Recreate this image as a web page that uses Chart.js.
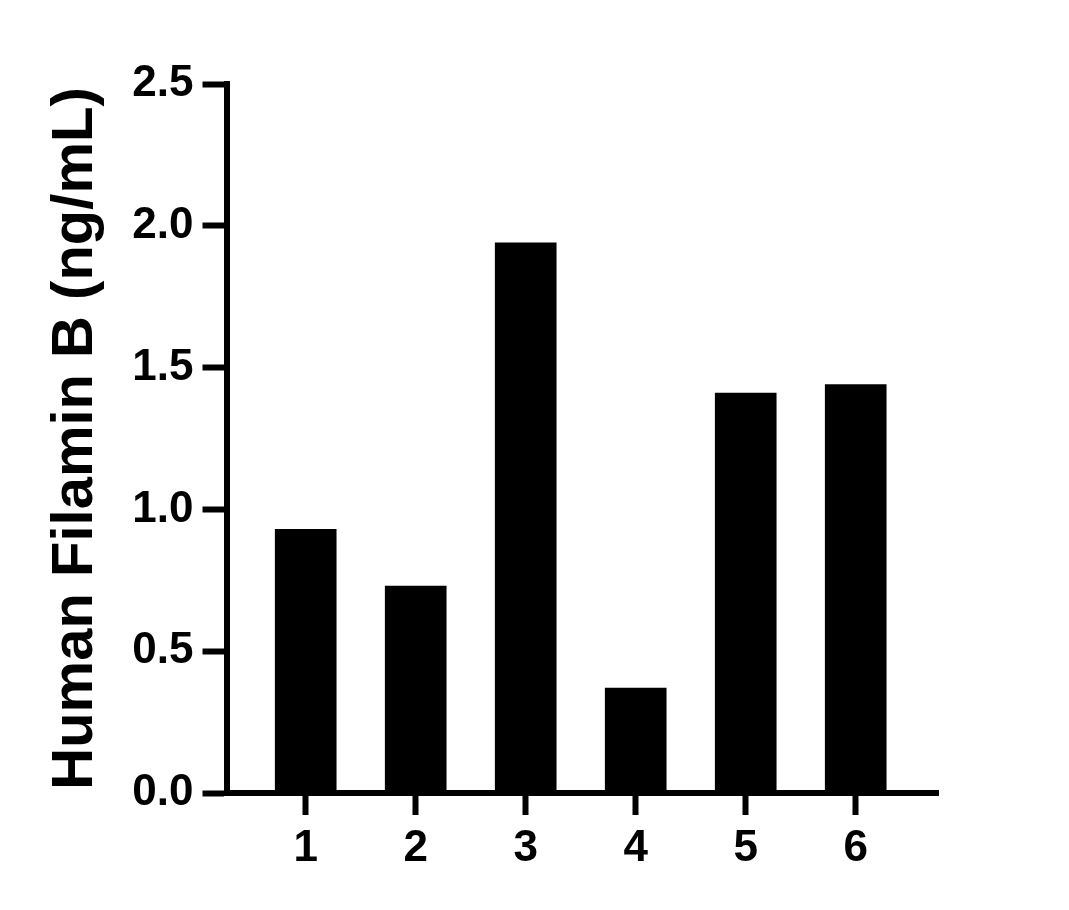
<!DOCTYPE html>
<html>
<head>
<meta charset="utf-8">
<script src="https://cdn.jsdelivr.net/npm/chart.js@4.4.0/dist/chart.umd.min.js"></script>
<style>
  html, body { margin: 0; padding: 0; background: #fff; }
  #wrap { width: 1069px; height: 910px; }
</style>
</head>
<body>
<div id="wrap"><canvas id="chart"></canvas></div>
<script>
const categories = ['1', '2', '3', '4', '5', '6'];
const values = [0.93, 0.73, 1.94, 0.37, 1.41, 1.44];
const yTicks = [0, 0.5, 1.0, 1.5, 2.0, 2.5];
const yTitle = 'Human Filamin B (ng/mL)';

const font = 'Liberation Sans, Arial, Helvetica, sans-serif';

let points = categories.map((c, i) => ({x: i + 1, y: values[i]}));

new Chart(document.getElementById('chart'), {
    type: 'bar',
    data: {
        datasets: [{
            data: points,
            backgroundColor: '#000',
            borderWidth: 0,
            barThickness: 61
        }]
    },
    options: {
        responsive: true,
        maintainAspectRatio: false,
        animation: false,
        events: [],
        layout: {padding: {left: 0, top: 84, right: 131, bottom: 0}},
        plugins: {legend: {display: false}, tooltip: {enabled: false}},
        scales: {
            x: {
                type: 'linear',
                offset: false,
                min: 0.28,
                max: 6.748,
                afterBuildTicks: (scale) => {
                    scale.ticks = categories.map((c, i) => ({value: i + 1}));
                },
                afterFit: (scale) => { scale.height = 117; },
                border: {display: true, color: '#000', width: 6},
                grid: {offset: false, drawOnChartArea: false, drawTicks: true, tickLength: 22, tickWidth: 6, color: '#000'},
                ticks: {
                    color: '#000',
                    padding: 7,
                    font: {family: font, size: 44, weight: 'bold'},
                    callback: (v) => categories[v - 1]
                }
            },
            y: {
                min: 0,
                max: 2.5,
                afterBuildTicks: (scale) => {
                    scale.ticks = yTicks.map(v => ({value: v}));
                },
                afterFit: (scale) => { scale.width = 226.5; },
                border: {display: true, color: '#000', width: 6},
                grid: {drawOnChartArea: false, drawTicks: true, tickLength: 24, tickWidth: 6, color: '#000'},
                ticks: {
                    color: '#000',
                    padding: 9,
                    font: {family: font, size: 44, weight: 'bold'},
                    callback: (v) => v.toFixed(1)
                },
                title: {
                    display: true,
                    text: yTitle,
                    color: '#000',
                    font: {family: font, size: 58, weight: 'bold'},
                    padding: {top: 41, bottom: 0}
                }
            }
        }
    }
});
</script>
</body>
</html>
